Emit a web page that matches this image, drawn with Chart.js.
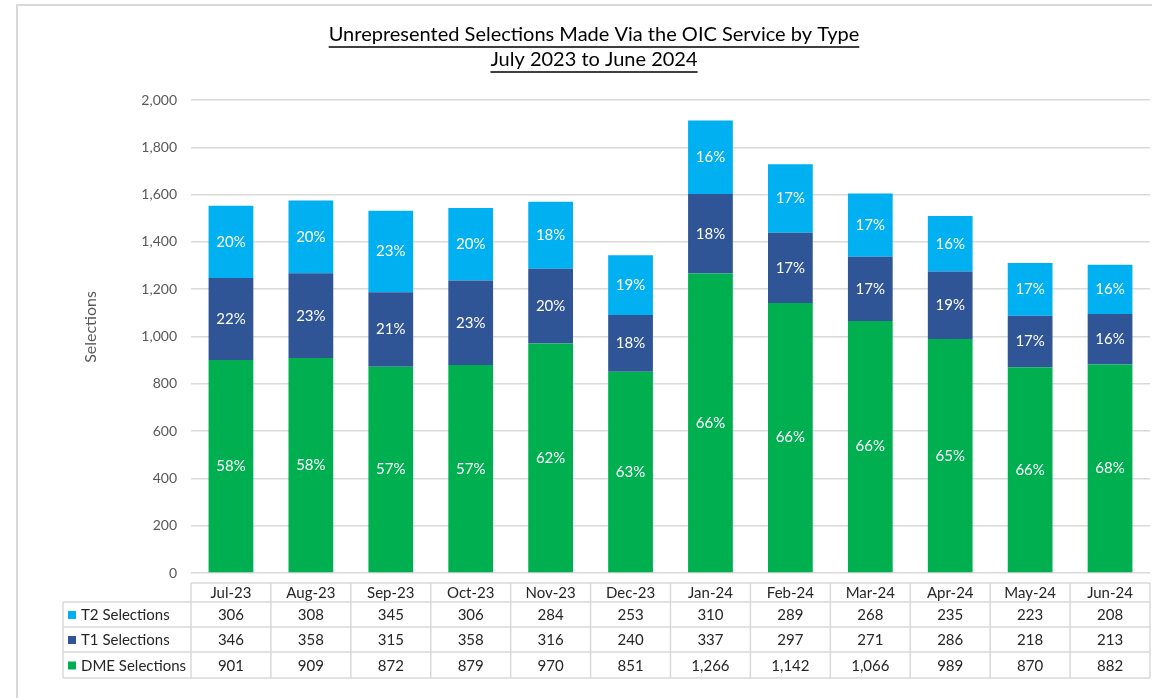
<!DOCTYPE html>
<html>
<head>
<meta charset="utf-8">
<script src="https://cdn.jsdelivr.net/npm/chart.js@4.4.1/dist/chart.umd.min.js"></script>
<style>
  html, body { margin: 0; padding: 0; background: #ffffff; }
  #wrap { position: relative; width: 1152px; height: 698px; }
  #frame { position: absolute; left: 16px; top: 4px; right: -4px; bottom: -4px; border-top: 2px solid #d9d9d9; border-left: 2px solid #d9d9d9; pointer-events: none; }
  canvas { position: absolute; left: 0; top: 0; }
</style>
</head>
<body>
<div id="wrap">
  <canvas id="c" width="1152" height="698"></canvas>
  <div id="frame"></div>
</div>
<script>
const categories = ['Jul-23','Aug-23','Sep-23','Oct-23','Nov-23','Dec-23','Jan-24','Feb-24','Mar-24','Apr-24','May-24','Jun-24'];
const dmeSelections = [901, 909, 872, 879, 970, 851, 1266, 1142, 1066, 989, 870, 882];
const t1Selections  = [346, 358, 315, 358, 316, 240, 337, 297, 271, 286, 218, 213];
const t2Selections  = [306, 308, 345, 306, 284, 253, 310, 289, 268, 235, 223, 208];
const seriesNames = ['DME Selections', 'T1 Selections', 'T2 Selections'];
const yTicks = [0, 200, 400, 600, 800, 1000, 1200, 1400, 1600, 1800, 2000];
const titleLines = ['Unrepresented Selections Made Via the OIC Service by Type', 'July 2023 to June 2024'];
const yAxisTitle = 'Selections';

const FONT = 'Lato, "Open Sans", sans-serif';
const colors = ['#00b050', '#2f5597', '#00b0f0'];

const fmt = v => v.toLocaleString('en-US');

const titlePlugin = {
  id: 'titleU',
  afterDraw(chart) {
    const ctx = chart.ctx;
    ctx.save();
    ctx.font = '20px ' + FONT;
    ctx.fillStyle = '#000000';
    ctx.strokeStyle = '#000000';
    ctx.lineWidth = 1.3;
    ctx.textAlign = 'center';
    ctx.textBaseline = 'middle';
    const cx = 594;
    const ys = [35, 60];
    titleLines.forEach((t, i) => {
      ctx.fillText(t, cx, ys[i]);
      const w = ctx.measureText(t).width;
      ctx.beginPath();
      ctx.moveTo(cx - w / 2, ys[i] + 12);
      ctx.lineTo(cx + w / 2, ys[i] + 12);
      ctx.stroke();
    });
    // y axis title
    ctx.translate(91, 327);
    ctx.rotate(-Math.PI / 2);
    ctx.font = '16px ' + FONT;
    ctx.fillStyle = '#595959';
    ctx.fillText(yAxisTitle, 0, 0);
    ctx.restore();
  }
};

const labelPlugin = {
  id: 'pctLabels',
  afterDatasetsDraw(chart) {
    const ctx = chart.ctx;
    const ds = chart.data.datasets;
    ctx.save();
    ctx.font = '15px ' + FONT;
    ctx.fillStyle = '#ffffff';
    ctx.textAlign = 'center';
    ctx.textBaseline = 'middle';
    categories.forEach((c, i) => {
      const total = ds.reduce((s, d) => s + d.data[i], 0);
      ds.forEach((d, di) => {
        const el = chart.getDatasetMeta(di).data[i];
        const pct = Math.round(d.data[i] / total * 100) + '%';
        const y = (el.y + el.base) / 2;
        ctx.fillText(pct, el.x, y);
      });
    });
    ctx.restore();
  }
};

const tablePlugin = {
  id: 'dataTable',
  afterDraw(chart) {
    const ctx = chart.ctx;
    const area = chart.chartArea;
    const xs = chart.scales.x;
    const n = categories.length;
    const cw = (area.right - area.left) / n;
    const left = area.left;
    const right = area.right;
    const legendLeft = 63;
    const rowsY = [583, 602, 627, 652, 678];
    ctx.save();
    ctx.strokeStyle = '#d9d9d9';
    ctx.lineWidth = 1.5;
    ctx.beginPath();
    ctx.moveTo(left, rowsY[0]); ctx.lineTo(right, rowsY[0]);
    for (let r = 1; r < rowsY.length; r++) {
      ctx.moveTo(legendLeft, rowsY[r]); ctx.lineTo(right, rowsY[r]);
    }
    ctx.moveTo(legendLeft, rowsY[1]); ctx.lineTo(legendLeft, rowsY[4]);
    for (let c = 0; c <= n; c++) {
      const x = left + c * cw;
      ctx.moveTo(x, rowsY[0]); ctx.lineTo(x, rowsY[4]);
    }
    ctx.stroke();

    ctx.font = '15px ' + FONT;
    ctx.fillStyle = '#262626';
    ctx.textAlign = 'center';
    ctx.textBaseline = 'middle';
    categories.forEach((c, i) => {
      const x = xs.getPixelForValue(i);
      ctx.fillText(c, x, (rowsY[0] + rowsY[1]) / 2 + 1);
    });
    const rowSeries = [2, 1, 0];
    const ds = chart.data.datasets;
    rowSeries.forEach((si, r) => {
      const yc = (rowsY[r + 1] + rowsY[r + 2]) / 2 + 1;
      ctx.fillStyle = colors[si];
      ctx.fillRect(68, yc - 4.5, 8, 8);
      ctx.fillStyle = '#262626';
      ctx.textAlign = 'left';
      ctx.fillText(ds[si].label, 81, yc);
      ctx.textAlign = 'center';
      ds[si].data.forEach((v, i) => {
        ctx.fillText(fmt(v), xs.getPixelForValue(i), yc);
      });
    });
    ctx.restore();
  }
};

new Chart(document.getElementById('c'), {
  type: 'bar',
  data: {
    labels: categories,
    datasets: [
      { label: seriesNames[0], data: dmeSelections, backgroundColor: colors[0] },
      { label: seriesNames[1], data: t1Selections, backgroundColor: colors[1] },
      { label: seriesNames[2], data: t2Selections, backgroundColor: colors[2] }
    ]
  },
  options: {
    responsive: false,
    animation: false,
    layout: { padding: { left: 80, right: 2, top: 100, bottom: 125 } },
    plugins: {
      legend: { display: false },
      title: { display: false },
      tooltip: { enabled: false }
    },
    datasets: { bar: { categoryPercentage: 0.56, barPercentage: 1.0 } },
    scales: {
      x: {
        display: false,
        stacked: true,
        grid: { display: false }
      },
      y: {
        stacked: true,
        min: 0,
        max: 2000,
        afterFit(scale) { scale.width = 111; },
        afterBuildTicks(scale) { scale.ticks = yTicks.map(v => ({ value: v })); },
        border: { display: false },
        grid: { color: '#d9d9d9', lineWidth: 1.5, drawTicks: false },
        ticks: {
          padding: 14,
          color: '#595959',
          font: { family: FONT, size: 14 },
          callback: v => fmt(v)
        },
        title: { display: false }
      }
    }
  },
  plugins: [titlePlugin, labelPlugin, tablePlugin]
});
</script>
</body>
</html>
